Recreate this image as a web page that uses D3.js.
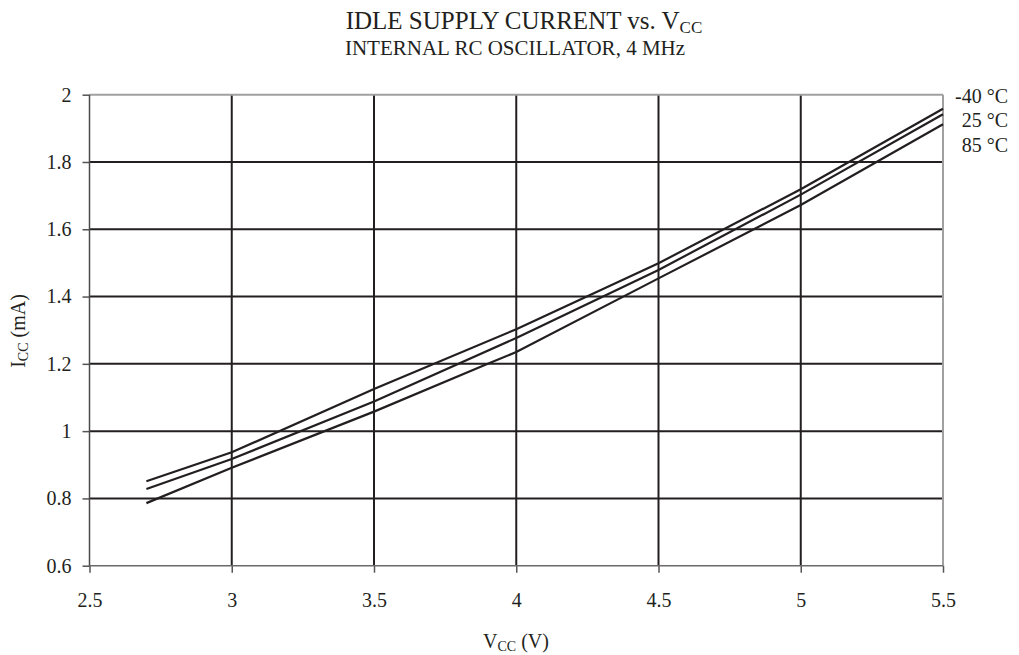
<!DOCTYPE html>
<html><head><meta charset="utf-8">
<script src="https://cdn.jsdelivr.net/npm/d3@7"></script>
<style>html,body{margin:0;padding:0;background:#fff;}svg{display:block;font-family:"Liberation Serif","DejaVu Serif",serif;}</style>
</head><body>
<script>
const xTicks = [2.5, 3, 3.5, 4, 4.5, 5, 5.5];
const yTicks = [0.6, 0.8, 1, 1.2, 1.4, 1.6, 1.8, 2];
const seriesNames = ["-40 °C", "25 °C", "85 °C"];
const vccM40 = [2.7, 3.0, 3.5, 4.0, 4.5, 5.0, 5.5];
const iccM40 = [0.851, 0.937, 1.125, 1.303, 1.499, 1.719, 1.958];
const vcc25 = [2.7, 3.0, 3.5, 4.0, 4.5, 5.0, 5.5];
const icc25 = [0.828, 0.917, 1.088, 1.277, 1.479, 1.703, 1.942];
const vcc85 = [2.7, 3.0, 3.5, 3.9, 4.0, 4.5, 5.0, 5.5];
const icc85 = [0.786, 0.891, 1.058, 1.200, 1.235, 1.454, 1.672, 1.912];

const W = 1019, H = 655;
const m = {left: 89.5, right: 943, top: 94.7, bottom: 565.7};
const svg = d3.select("body").append("svg").attr("width", W).attr("height", H);
const x = d3.scaleLinear().domain([2.5, 5.5]).range([m.left, m.right]);
const y = d3.scaleLinear().domain([0.6, 2]).range([m.bottom, m.top]);
const dark = "#231f20";

// grid
const g = svg.append("g");
g.selectAll(".hg").data(yTicks.filter(d => d > 0.6 && d < 2)).join("line")
  .attr("x1", m.left).attr("x2", m.right).attr("y1", d => y(d)).attr("y2", d => y(d))
  .attr("stroke", dark).attr("stroke-width", 2);
g.selectAll(".vg").data(xTicks.filter(d => d > 2.5 && d < 5.5)).join("line")
  .attr("y1", m.top).attr("y2", m.bottom).attr("x1", d => x(d)).attr("x2", d => x(d))
  .attr("stroke", dark).attr("stroke-width", 2);
// top/right border grey
g.append("line").attr("x1", m.left).attr("x2", m.right).attr("y1", y(2)).attr("y2", y(2)).attr("stroke", "#a0a0a0").attr("stroke-width", 2);
g.append("line").attr("x1", x(5.5)).attr("x2", x(5.5)).attr("y1", m.top).attr("y2", m.bottom).attr("stroke", "#a0a0a0").attr("stroke-width", 2);

// axes
const xAxis = d3.axisBottom(x).tickValues(xTicks).tickSize(7).tickPadding(20).tickFormat(d => String(d));
const yAxis = d3.axisLeft(y).tickValues(yTicks).tickSize(7).tickPadding(11).tickFormat(d => String(d));
const gx = svg.append("g").attr("transform", `translate(0,${m.bottom})`).call(xAxis);
const gy = svg.append("g").attr("transform", `translate(${m.left},0)`).call(yAxis);
[gx, gy].forEach(a => {
  a.select(".domain").remove();
  a.selectAll(".tick line").attr("stroke", "#555").attr("stroke-width", 1.5);
  a.selectAll("text").attr("font-family", "Liberation Serif").attr("font-size", 20).attr("fill", dark);
});
svg.append("line").attr("x1", m.left).attr("x2", m.left).attr("y1", m.top).attr("y2", m.bottom + 0.75).attr("stroke", "#4a4a4a").attr("stroke-width", 1.5);
svg.append("line").attr("x1", m.left).attr("x2", m.right).attr("y1", m.bottom).attr("y2", m.bottom).attr("stroke", "#6a6a6a").attr("stroke-width", 1.5);

// curves
const line = d3.line().x(d => x(d[0])).y(d => y(d[1]));
const series = [d3.zip(vccM40, iccM40), d3.zip(vcc25, icc25), d3.zip(vcc85, icc85)];
svg.selectAll(".curve").data(series).join("path")
  .attr("d", line).attr("fill", "none").attr("stroke", dark).attr("stroke-width", 2.2);

// series labels
const labY = [96, 120, 145];
svg.selectAll(".lab").data(seriesNames).join("text")
  .attr("x", 1008).attr("y", (d, i) => labY[i]).attr("dy", "0.35em")
  .attr("text-anchor", "end").attr("font-size", 20).attr("fill", dark).text(d => d);

// titles
const t = svg.append("text").attr("x", 524).attr("y", 29).attr("text-anchor", "middle").attr("font-size", 25).attr("fill", dark);
t.append("tspan").text("IDLE SUPPLY CURRENT vs. V");
t.append("tspan").attr("font-size", 17).attr("dy", 4).text("CC");
svg.append("text").attr("x", 515).attr("y", 55).attr("text-anchor", "middle").attr("font-size", 21).attr("fill", dark)
  .text("INTERNAL RC OSCILLATOR, 4 MHz");

// axis labels
const xl = svg.append("text").attr("x", 516).attr("y", 648).attr("text-anchor", "middle").attr("font-size", 20).attr("fill", dark);
xl.append("tspan").text("V");
xl.append("tspan").attr("font-size", 14).attr("dy", 3).text("CC");
xl.append("tspan").attr("dy", -3).text(" (V)");
const yl = svg.append("text").attr("transform", "translate(25,331) rotate(-90)").attr("text-anchor", "middle").attr("font-size", 20).attr("fill", dark);
yl.append("tspan").text("I");
yl.append("tspan").attr("font-size", 14).attr("dy", 3).text("CC");
yl.append("tspan").attr("dy", -3).text(" (mA)");
</script>
</body></html>
